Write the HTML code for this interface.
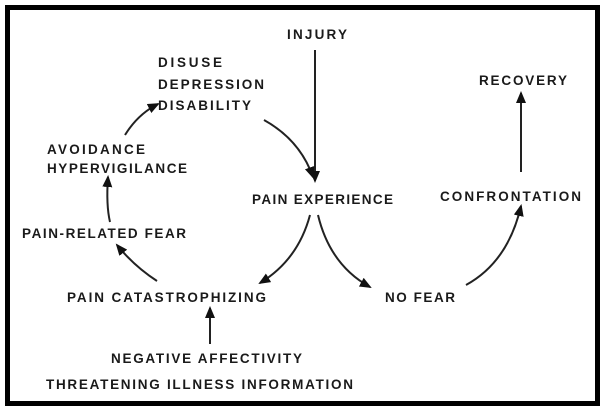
<!DOCTYPE html>
<html><head><meta charset="utf-8"><style>
html,body{margin:0;padding:0;background:#fff;}
svg{display:block;}
text{font-family:"Liberation Sans",sans-serif;font-size:13.5px;fill:#1a1a1a;font-weight:bold;}
</style></head><body>
<svg width="602" height="411" viewBox="0 0 602 411" xmlns="http://www.w3.org/2000/svg">
<defs>
<marker id="a" markerWidth="12" markerHeight="12" refX="10" refY="5" orient="auto" markerUnits="userSpaceOnUse">
<path d="M0,0 L12,5 L0,10 Z" fill="#111"/>
</marker>
</defs>
<rect x="7.5" y="7.5" width="590" height="396" fill="#fff" stroke="#000" stroke-width="5"/>
<g stroke="#222" stroke-width="2" fill="none" marker-end="url(#a)">
<line x1="315" y1="50" x2="315" y2="181"/>
<path d="M264,120 Q300,140 313,177"/>
<path d="M125,135 Q138,114 158,104"/>
<path d="M110,222 Q106,205 108,177"/>
<path d="M157,281 Q134,266 117,245"/>
<path d="M310,215 Q298,260 260,283"/>
<path d="M318,215 Q330,265 370,287"/>
<path d="M466,285 Q508,262 521,206"/>
<line x1="521" y1="172" x2="521" y2="93"/>
<line x1="210" y1="344" x2="210" y2="308"/>
</g>
<text x="287" y="39" textLength="60">INJURY</text>
<text x="158" y="67" textLength="64">DISUSE</text>
<text x="158" y="89" textLength="106">DEPRESSION</text>
<text x="158" y="110" textLength="93">DISABILITY</text>
<text x="479" y="85" textLength="88">RECOVERY</text>
<text x="47" y="154" textLength="98">AVOIDANCE</text>
<text x="47" y="173" textLength="140">HYPERVIGILANCE</text>
<text x="252" y="204" textLength="141">PAIN EXPERIENCE</text>
<text x="440" y="201" textLength="141">CONFRONTATION</text>
<text x="22" y="238" textLength="164">PAIN-RELATED FEAR</text>
<text x="67" y="302" textLength="199">PAIN CATASTROPHIZING</text>
<text x="385" y="302" textLength="70">NO FEAR</text>
<text x="111" y="363" textLength="191">NEGATIVE AFFECTIVITY</text>
<text x="46" y="389" textLength="307">THREATENING ILLNESS INFORMATION</text>
</svg>
</body></html>
